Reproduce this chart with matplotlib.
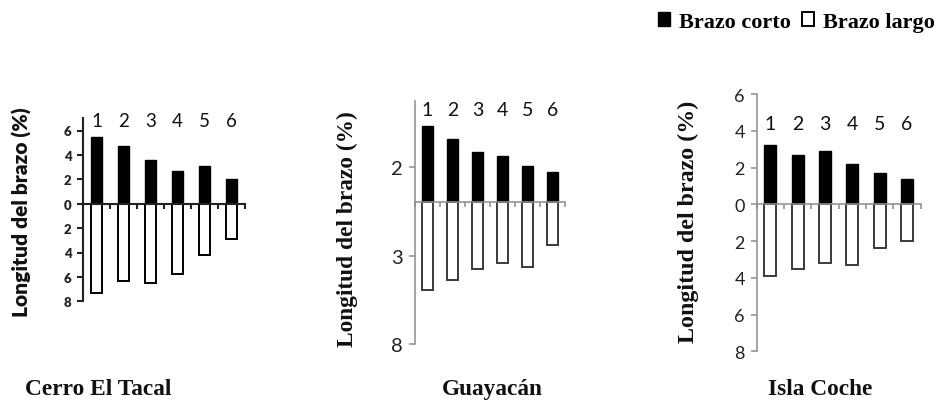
import matplotlib
matplotlib.use("Agg")
import matplotlib.pyplot as plt
from matplotlib.transforms import blended_transform_factory

# ---------------- data ----------------
categories = ["1", "2", "3", "4", "5", "6"]

tacal_corto = [5.5, 4.7, 3.6, 2.7, 3.1, 2.0]
tacal_largo = [7.3, 6.3, 6.5, 5.8, 4.2, 2.9]

guay_corto = [1.73, 1.43, 1.13, 1.05, 0.81, 0.68]
guay_largo = [1.98, 1.75, 1.51, 1.37, 1.47, 0.96]

coche_corto = [3.2, 2.7, 2.9, 2.2, 1.7, 1.4]
coche_largo = [3.9, 3.5, 3.2, 3.3, 2.4, 2.0]

tacal_yticks = [6, 4, 2, 0, -2, -4, -6, -8]
tacal_ylabels = ["6", "4", "2", "0", "2", "4", "6", "8"]
guay_yticks = [0.79, -1.21, -3.21]
guay_ylabels = ["2", "3", "8"]
coche_yticks = [6, 4, 2, 0, -2, -4, -6, -8]
coche_ylabels = ["6", "4", "2", "0", "2", "4", "6", "8"]

titles = ["Cerro El Tacal", "Guayacán", "Isla Coche"]
ylabel = "Longitud del brazo (%)"
legend_labels = ["Brazo corto", "Brazo largo"]

SERIF = "Liberation Serif"
SANS = "Lato"

fig = plt.figure(figsize=(9.36, 4.02), dpi=100)
W, H = 936, 402


def add_ax(x0, x1, ytop, ybot):
    return fig.add_axes([x0 / W, (H - ybot) / H, (x1 - x0) / W, (ybot - ytop) / H])


panels = [
    dict(ax=add_ax(83, 245, 119.3, 302.3), corto=tacal_corto, largo=tacal_largo,
         ylim=(-8, 7), yt=tacal_yticks, yl=tacal_ylabels, spine="#222222", slw=1.5,
         edge="black", tickfont=dict(family=SANS, size=9.5, weight="heavy"),
         labfont=dict(family=SANS, size=15, weight="heavy"), labx=-0.377, laby=0.49,
         numy=6.8, numsize=13.5, width=0.43),
    dict(ax=add_ax(415, 565, 101.7, 345), corto=guay_corto, largo=guay_largo,
         ylim=(-3.21, 2.30), yt=guay_yticks, yl=guay_ylabels, spine="#8c8c8c", slw=1.1,
         edge="#3a3a3a", tickfont=dict(family=SANS, size=14.5),
         labfont=dict(family=SERIF, size=16.8, weight="bold"), labx=-0.453, laby=0.477,
         numy=2.11, numsize=14, width=0.46),
    dict(ax=add_ax(756.7, 920.7, 95, 352.3), corto=coche_corto, largo=coche_largo,
         ylim=(-8, 6), yt=coche_yticks, yl=coche_ylabels, spine="#8c8c8c", slw=1.1,
         edge="#3a3a3a", tickfont=dict(family=SANS, size=13),
         labfont=dict(family=SERIF, size=17.3, weight="bold"), labx=-0.419, laby=0.508,
         numy=4.4, numsize=14, width=0.44),
]

x = list(range(len(categories)))
handles = None
for p in panels:
    ax = p["ax"]
    b1 = ax.bar(x, p["corto"], width=p["width"], color="black", edgecolor="black",
                linewidth=1.0, zorder=2)
    b2 = ax.bar(x, [-v for v in p["largo"]], width=p["width"], color="white",
                edgecolor=p["edge"], linewidth=1.4, zorder=2)
    if handles is None:
        handles = (b1, b2)
    ax.set_xlim(-0.5, len(categories) - 0.5)
    ax.set_ylim(*p["ylim"])
    for s in ("top", "right"):
        ax.spines[s].set_visible(False)
    ax.spines["bottom"].set_position(("data", 0))
    for s in ("left", "bottom"):
        ax.spines[s].set_color(p["spine"])
        ax.spines[s].set_linewidth(p["slw"])
    ax.spines["bottom"].set_zorder(3)
    ax.set_xticks([i - 0.5 for i in range(len(categories) + 1)])
    ax.set_xticklabels([])
    ax.tick_params(axis="x", direction="out", length=3.5, width=p["slw"], color=p["spine"])
    ax.set_yticks(p["yt"])
    ax.set_yticklabels(p["yl"], fontdict=p["tickfont"])
    ax.tick_params(axis="y", direction="out", length=4.5, width=p["slw"], color=p["spine"],
                   pad=4, labelcolor="#222222")
    ax.patch.set_visible(False)
    trans = blended_transform_factory(ax.transData, ax.transData)
    for i, c in enumerate(categories):
        ax.text(i, p["numy"], c, ha="center", va="center", fontsize=p["numsize"],
                family=SANS, color="#111111", transform=trans, clip_on=False)
    ax.text(p["labx"], p["laby"], ylabel, rotation=90, ha="center", va="center",
            transform=ax.transAxes, color="#111111", **p["labfont"])

title_x = [98.5, 492.5, 820]
for t, tx in zip(titles, title_x):
    fig.text(tx / W, 1 - 390 / H, t, ha="center", va="center", family=SERIF,
             weight="bold", fontsize=16.8, color="#111111")

fig.legend(handles, legend_labels, loc="center right",
           bbox_to_anchor=(935 / W, 1 - 23 / H), ncol=2, frameon=False,
           prop=dict(family=SERIF, weight="bold", size=16), handlelength=0.55,
           handleheight=0.55, handletextpad=0.4, columnspacing=0.5, borderpad=0,
           borderaxespad=0)

fig.savefig("out.png", dpi=100)
